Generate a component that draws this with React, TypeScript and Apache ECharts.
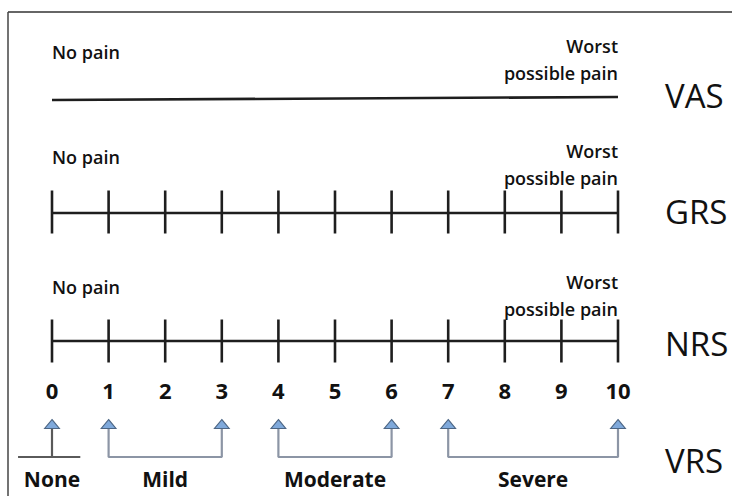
import React, { useEffect, useRef } from "react";
import * as echarts from "echarts";

// ---- data ----
const SCALE_POINTS = [0, 1, 2, 3, 4, 5, 6, 7, 8, 9, 10];
const NRS_LABELS = ["0", "1", "2", "3", "4", "5", "6", "7", "8", "9", "10"];
const SCALE_NAMES = ["VAS", "GRS", "NRS", "VRS"];
const ANCHOR_LOW = "No pain";
const ANCHOR_HIGH = "Worst\npossible pain";
const VRS_CATEGORIES = ["None", "Mild", "Moderate", "Severe"];
const VRS_RANGES: [number, number][] = [
  [0, 0],
  [1, 3],
  [4, 6],
  [7, 10],
];

// ---- layout (pixel rows, y axis is in pixels) ----
const W = 732;
const H = 496;
const X0_PX = 52;
const UNIT_PX = 56.6;
const X_MIN = -0.8;
const X_MAX = 10;
const ROW = {
  vasLineL: 100,
  vasLineR: 97,
  vasLow: 52,
  vasHigh: 59,
  grsLine: 213,
  grsLow: 157,
  grsHigh: 164,
  nrsLine: 341,
  nrsLow: 287,
  nrsHigh: 295,
  nums: 390,
  arrow: 424,
  arrowBase: 429,
  bracket: 457,
  vrsText: 479,
};
const NAME_Y = [95, 211, 343, 460];
const NAME_X = 665;

const INK = "#111111";
const FONT = "'Open Sans', 'Noto Sans', sans-serif";

export default function App() {
  const ref = useRef<HTMLDivElement>(null);

  useEffect(() => {
    if (!ref.current) return;
    const chart = echarts.init(ref.current, undefined, { renderer: "svg" });

    const scaleLine = (name: string, pts: number[][]) => ({
      type: "line",
      name,
      data: pts,
      symbol: "none",
      silent: true,
      clip: false,
      lineStyle: { color: "#1e1e1e", width: 2.6 },
      z: 2,
    });

    const ticks = (y: number) => ({
      type: "scatter",
      data: SCALE_POINTS.map((v) => [v, y]),
      symbol: "rect",
      symbolSize: [2.6, 43],
      itemStyle: { color: "#1e1e1e", opacity: 1 },
      silent: true,
      z: 3,
    });

    const textSeries = (pts: number[][], texts: string[], style: any) => ({
      type: "scatter",
      data: pts.map((p, i) => ({ value: p, name: texts[i] })),
      symbolSize: 0,
      silent: true,
      itemStyle: { color: "#ffffff", opacity: 1 },
      label: {
        show: true,
        position: "inside",
        formatter: (p: any) => p.name,
        fontFamily: FONT,
        color: INK,
        opacity: 1,
        textBorderWidth: 0,
        textBorderColor: "transparent",
        ...style,
      },
      z: 5,
    });

    const anchors = (lowY: number, highY: number) => [
      textSeries([[0, lowY]], [ANCHOR_LOW], {
        align: "left",
        verticalAlign: "middle",
        fontSize: 18,
        fontWeight: 600,
      }),
      textSeries([[X_MAX, highY]], [ANCHOR_HIGH], {
        align: "right",
        verticalAlign: "middle",
        fontSize: 18,
        fontWeight: 600,
        lineHeight: 27,
      }),
    ];

    const arrowPoints = Array.from(new Set(VRS_RANGES.flatMap((r) => r)));

    const bracketSeries = VRS_RANGES.map((r, i) => {
      const pts =
        r[0] === r[1]
          ? [
              [r[0], ROW.arrowBase],
              [r[0], ROW.bracket],
            ]
          : [
              [r[0], ROW.arrowBase],
              [r[0], ROW.bracket],
              [r[1], ROW.bracket],
              [r[1], ROW.arrowBase],
            ];
      return {
        type: "line",
        data: pts,
        symbol: "none",
        silent: true,
        clip: false,
        lineStyle: { color: i === 0 ? "#5a5a5a" : "#8c95a5", width: 2.2 },
        z: 2,
      };
    });

    const noneBase = {
      type: "line",
      data: [
        [-0.6, ROW.bracket],
        [0.5, ROW.bracket],
      ],
      symbol: "none",
      silent: true,
      clip: false,
      lineStyle: { color: "#5a5a5a", width: 2 },
      z: 2,
    };

    const option: any = {
      animation: false,
      backgroundColor: "#ffffff",
      grid: {
        left: X0_PX + X_MIN * UNIT_PX,
        right: W - (X0_PX + X_MAX * UNIT_PX),
        top: 0,
        bottom: 0,
      },
      xAxis: { type: "value", min: X_MIN, max: X_MAX, show: false },
      yAxis: { type: "value", min: 0, max: H, inverse: true, show: false },
      series: [
        scaleLine("VAS", [
          [0, ROW.vasLineL],
          [10, ROW.vasLineR],
        ]),
        ...anchors(ROW.vasLow, ROW.vasHigh),
        scaleLine("GRS", [
          [0, ROW.grsLine],
          [10, ROW.grsLine],
        ]),
        ticks(ROW.grsLine - 1),
        ...anchors(ROW.grsLow, ROW.grsHigh),
        scaleLine("NRS", [
          [0, ROW.nrsLine],
          [10, ROW.nrsLine],
        ]),
        ticks(ROW.nrsLine),
        ...anchors(ROW.nrsLow, ROW.nrsHigh),
        textSeries(
          SCALE_POINTS.map((v) => [v, ROW.nums]),
          NRS_LABELS,
          {
            align: "center",
            verticalAlign: "middle",
            fontSize: 22,
            fontWeight: "bold",
          }
        ),
        ...bracketSeries,
        noneBase,
        {
          type: "scatter",
          data: arrowPoints.map((v) => [v, ROW.arrow]),
          symbol: "triangle",
          symbolSize: [15, 9],
          silent: true,
          itemStyle: {
            color: "#7fa9db",
            borderColor: "#4d6684",
            borderWidth: 1,
            opacity: 1,
          },
          z: 4,
        },
        textSeries(
          VRS_RANGES.map((r) => [(r[0] + r[1]) / 2, ROW.vrsText]),
          VRS_CATEGORIES,
          {
            align: "center",
            verticalAlign: "middle",
            fontSize: 21,
            fontWeight: "bold",
          }
        ),
      ],
      graphic: [
        {
          type: "line",
          shape: { x1: 8, y1: 12, x2: W, y2: 12 },
          style: { stroke: "#333", lineWidth: 1.5 },
          silent: true,
        },
        {
          type: "line",
          shape: { x1: 8, y1: 12, x2: 8, y2: H },
          style: { stroke: "#444", lineWidth: 1.5 },
          silent: true,
        },
        ...SCALE_NAMES.map((n, i) => ({
          type: "text",
          x: NAME_X,
          y: NAME_Y[i],
          style: {
            text: n,
            fontFamily: FONT,
            fontSize: 33,
            fill: "#111",
            verticalAlign: "middle",
            align: "left",
          },
          silent: true,
        })),
      ],
    };

    chart.setOption(option);
    return () => chart.dispose();
  }, []);

  return (
    <div
      ref={ref}
      style={{ position: "fixed", left: 0, top: 0, width: W, height: H }}
    />
  );
}
